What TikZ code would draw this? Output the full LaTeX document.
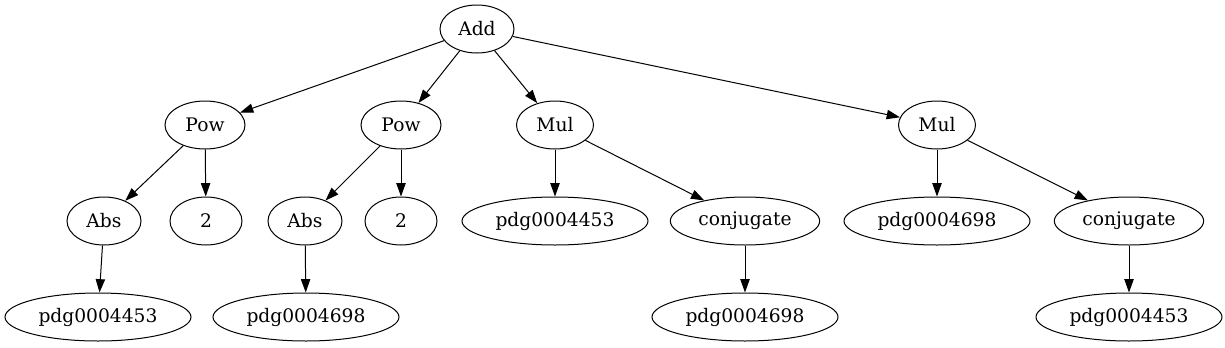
\documentclass[tikz,border=0pt]{standalone}
\usepackage{fontspec}
\setmainfont{DejaVu Serif}
\usetikzlibrary{arrows.meta,shapes.geometric}
\begin{document}
\begin{tikzpicture}[x=0.75pt,y=-0.75pt,
  gnode/.style={draw,ellipse,line width=0.75pt,inner sep=0pt,minimum height=36pt,font=\fontsize{14pt}{16pt}\selectfont},
  wAdd/.style={gnode,minimum width=55.5pt},
  wPow/.style={gnode,minimum width=60pt},
  wMul/.style={gnode,minimum width=57.75pt},
  wAbs/.style={gnode,minimum width=55.5pt},
  wTwo/.style={gnode,minimum width=54pt},
  wPdg/.style={gnode,minimum width=139.5pt},
  wConj/.style={gnode,minimum width=112pt},
  edge/.style={draw,line width=0.75pt,-{Triangle[length=10pt,width=7pt]}}]
\useasboundingbox (0,0) rectangle (1225,347);
\node[wAdd] (add) at (477,29) {Add};
\node[wPow] (pow1) at (205,125) {Pow};
\node[wPow] (pow2) at (401,125) {Pow};
\node[wMul] (mul1) at (555,125) {Mul};
\node[wMul] (mul2) at (937,125) {Mul};
\node[wAbs] (abs1) at (104,221) {Abs};
\node[wTwo] (two1) at (206,221) {2};
\node[wAbs] (abs2) at (305,221) {Abs};
\node[wTwo] (two2) at (401,221) {2};
\node[wPdg] (pdgA) at (555,221) {pdg0004453};
\node[wConj] (conj1) at (745,221) {conjugate};
\node[wPdg] (pdgB) at (937,221) {pdg0004698};
\node[wConj] (conj2) at (1129,221) {conjugate};
\node[wPdg] (leaf1) at (98,317) {pdg0004453};
\node[wPdg] (leaf2) at (306,317) {pdg0004698};
\node[wPdg] (leaf3) at (745,317) {pdg0004698};
\node[wPdg] (leaf4) at (1129,317) {pdg0004453};
\draw[edge] (add) -- (pow1);
\draw[edge] (add) -- (pow2);
\draw[edge] (add) -- (mul1);
\draw[edge] (add) -- (mul2);
\draw[edge] (pow1) -- (abs1);
\draw[edge] (pow1) -- (two1);
\draw[edge] (pow2) -- (abs2);
\draw[edge] (pow2) -- (two2);
\draw[edge] (mul1) -- (pdgA);
\draw[edge] (mul1) -- (conj1);
\draw[edge] (mul2) -- (pdgB);
\draw[edge] (mul2) -- (conj2);
\draw[edge] (abs1) -- (leaf1);
\draw[edge] (abs2) -- (leaf2);
\draw[edge] (conj1) -- (leaf3);
\draw[edge] (conj2) -- (leaf4);
\end{tikzpicture}
\end{document}
